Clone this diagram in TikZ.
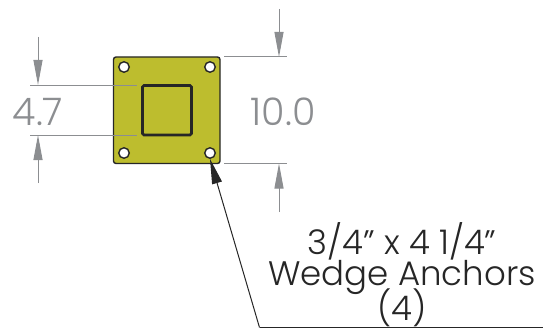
\documentclass[tikz,border=0pt]{standalone}
\usepackage{fontspec}
\setmainfont{Poppins Light}
\usetikzlibrary{arrows.meta}
\definecolor{plategreen}{HTML}{BDBD2E}
\definecolor{dimgray}{HTML}{8C8E91}
\tikzset{
  plate/.style={draw=black!85, fill=plategreen, line width=1.4pt, rounded corners=2.5pt},
  pocket/.style={draw=black!85, line width=2.6pt, rounded corners=1.5pt},
  anchorhole/.style={circle, draw=black!85, fill=white, line width=1.4pt, minimum size=10.5pt, inner sep=0pt},
  extline/.style={draw=dimgray, line width=1pt},
  dimline/.style={draw=dimgray, line width=1pt, -{Triangle[length=25pt,width=9pt,fill=dimgray]}},
  leader/.style={draw=black!85, line width=1pt},
  dimtext/.style={text=dimgray, font=\fontsize{38}{38}\selectfont, inner sep=0pt, anchor=base},
  notetext/.style={text=black!85, font=\fontsize{34}{34}\selectfont, inner sep=0pt, anchor=base}
}

\begin{document}
\begin{tikzpicture}[x=1pt, y=-1pt]
\useasboundingbox (0,0) rectangle (546,329);

% plate
\path[plate] (113.5,57) rectangle (220,163.5);
\path[pocket] (142.5,85.5) rectangle (191.5,135);
\node[anchorhole] (h1) at (124,67) {};
\node[anchorhole] (h2) at (210,67) {};
\node[anchorhole] (h3) at (124,153) {};
\node[anchorhole] (h4) at (210,153) {};

% 10.0
\coordinate (a1) at (224,57);
\coordinate (a2) at (287,57);
\coordinate (a3) at (224,163.5);
\coordinate (a4) at (287,163.5);
\coordinate (a5) at (279,9);
\coordinate (a6) at (279,57);
\coordinate (a7) at (279,212);
\coordinate (a8) at (279,163.5);
\draw[extline] (a1) -- (a2);
\draw[extline] (a3) -- (a4);
\draw[dimline] (a5) -- (a6);
\draw[dimline] (a7) -- (a8);
\node[dimtext] (d10) at (283,125) {10.0};

% 4.7
\coordinate (b1) at (30,85);
\coordinate (b2) at (137,85);
\coordinate (b3) at (30,135);
\coordinate (b4) at (137,135);
\coordinate (b5) at (38,37);
\coordinate (b6) at (38,85);
\coordinate (b7) at (38,183);
\coordinate (b8) at (38,135);
\draw[extline] (b1) -- (b2);
\draw[extline] (b3) -- (b4);
\draw[dimline] (b5) -- (b6);
\draw[dimline] (b7) -- (b8);
\node[dimtext] (d47) at (38,125) {4.7};

% note
\coordinate (c1) at (259.5,327.5);
\coordinate (c2) at (543,327.5);
\draw[leader, -{Triangle[length=25pt,width=10pt,fill=black!85]}] (c1) -- (h4.south);
\draw[leader] (c1) -- (c2);
\node[notetext] (n1) at (402,254) {3/4'' x 4 1/4''};
\node[notetext] (n2) at (402,285) {Wedge Anchors};
\node[notetext] (n3) at (402,320) {(4)};
\end{tikzpicture}
\end{document}
